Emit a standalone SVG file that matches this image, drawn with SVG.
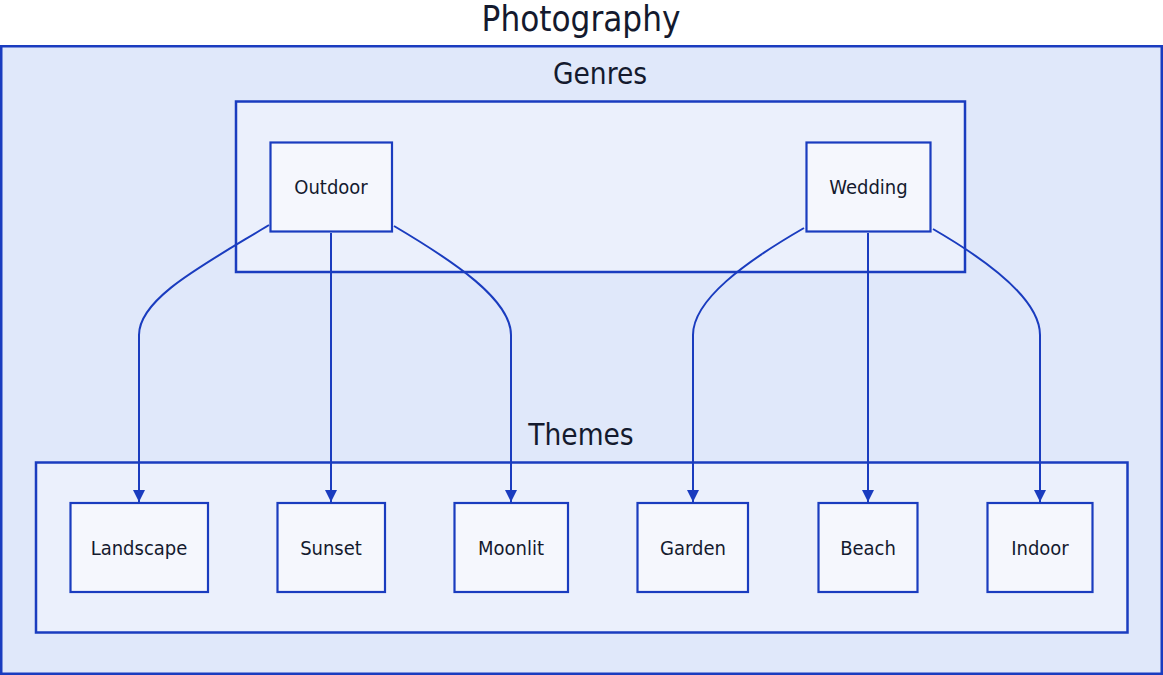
<svg xmlns="http://www.w3.org/2000/svg" width="1163" height="675" viewBox="0 0 1163 675">
  <style>
    .cluster-outer { fill: #e0e8fa; stroke: #1a3cbf; stroke-width: 2.5; }
    .cluster-inner { fill: #ebf0fc; stroke: #1a3cbf; stroke-width: 2.5; }
    .node rect { fill: #f5f7fd; stroke: #1a3cbf; stroke-width: 2.2; }
    .label { font-family: "DejaVu Sans Condensed", "DejaVu Sans", sans-serif; font-stretch: condensed; fill: #141a2e; text-anchor: middle; dominant-baseline: central; }
    .title { font-size: 34.7px; }
    .ctitle { font-size: 29.5px; }
    .ntext { font-size: 20px; }
    .edge { fill: none; stroke: #1a3cbf; stroke-width: 2; marker-end: url(#arrow); }
  </style>
  <defs>
    <marker id="arrow" markerUnits="userSpaceOnUse" markerWidth="12" markerHeight="12" refX="12" refY="6" orient="auto">
      <path d="M0,0 L12,6 L0,12 z" fill="#1a3cbf"/>
    </marker>
  </defs>

  <rect width="1163" height="675" fill="#ffffff"/>

  <!-- Outer cluster: Photography -->
  <g id="cluster-photography">
    <rect class="cluster-outer" x="1.25" y="46.25" width="1160.5" height="627.5"/>
    <text class="label title" x="581" y="18.5">Photography</text>
  </g>

  <!-- Genres cluster -->
  <g id="cluster-genres">
    <rect class="cluster-inner" x="236" y="101.5" width="729" height="170.5"/>
    <text class="label ctitle" x="600" y="74">Genres</text>
  </g>

  <!-- Themes cluster -->
  <g id="cluster-themes">
    <rect class="cluster-inner" x="36" y="462.5" width="1091.5" height="170"/>
    <text class="label ctitle" x="581" y="435">Themes</text>
  </g>

  <!-- Connectors -->
  <g id="edges">
    <path class="edge" d="M269,225 C205,264 139,298 139,335 L139,502"/>
    <path class="edge" d="M331,233 L331,502"/>
    <path class="edge" d="M394,226 C455,262 511,300 511,335 L511,502"/>
    <path class="edge" d="M804,228 C745,262 693,300 693,335 L693,502"/>
    <path class="edge" d="M868,233 L868,502"/>
    <path class="edge" d="M933,229 C990,262 1040,300 1040,335 L1040,502"/>
  </g>

  <!-- Genre nodes -->
  <g id="node-outdoor" class="node">
    <rect x="270.5" y="142.5" width="121.5" height="89"/>
    <text class="label ntext" x="331" y="187">Outdoor</text>
  </g>
  <g id="node-wedding" class="node">
    <rect x="806.5" y="142.5" width="124" height="89"/>
    <text class="label ntext" x="868.5" y="187">Wedding</text>
  </g>

  <!-- Theme nodes -->
  <g id="node-landscape" class="node">
    <rect x="70.5" y="503" width="137.5" height="89"/>
    <text class="label ntext" x="139" y="547.5">Landscape</text>
  </g>
  <g id="node-sunset" class="node">
    <rect x="277.5" y="503" width="107.5" height="89"/>
    <text class="label ntext" x="331" y="547.5">Sunset</text>
  </g>
  <g id="node-moonlit" class="node">
    <rect x="454.5" y="503" width="113.5" height="89"/>
    <text class="label ntext" x="511" y="547.5">Moonlit</text>
  </g>
  <g id="node-garden" class="node">
    <rect x="637.5" y="503" width="110.5" height="89"/>
    <text class="label ntext" x="693" y="547.5">Garden</text>
  </g>
  <g id="node-beach" class="node">
    <rect x="818.5" y="503" width="99" height="89"/>
    <text class="label ntext" x="868" y="547.5">Beach</text>
  </g>
  <g id="node-indoor" class="node">
    <rect x="987.5" y="503" width="105" height="89"/>
    <text class="label ntext" x="1040" y="547.5">Indoor</text>
  </g>
</svg>
